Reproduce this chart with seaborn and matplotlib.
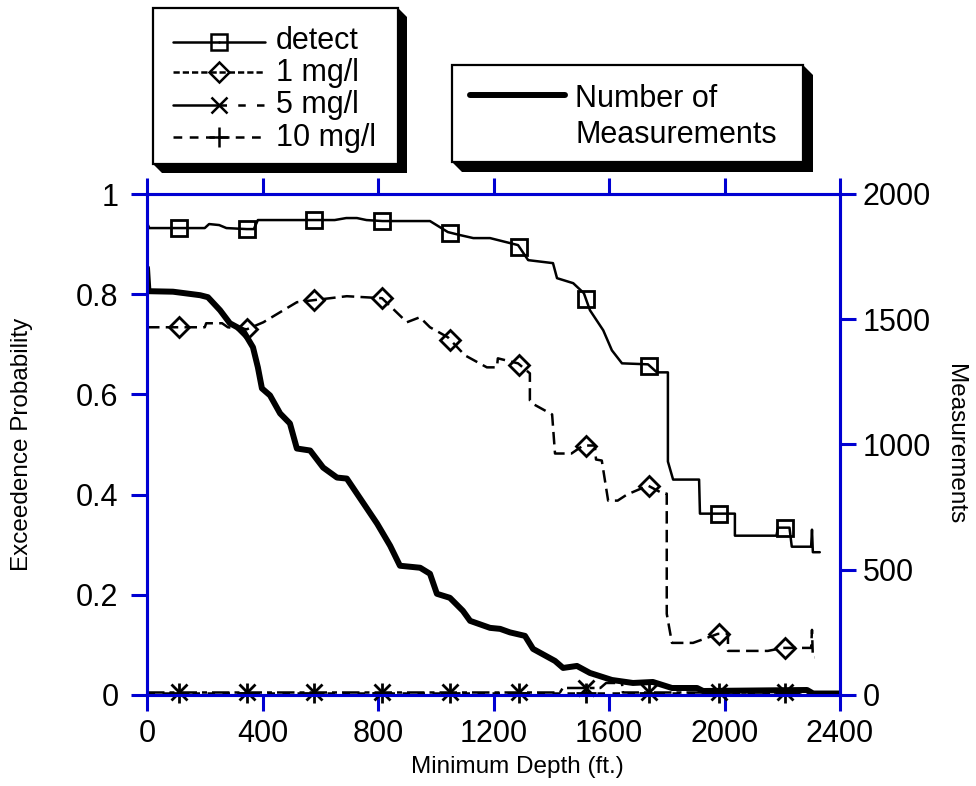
import numpy as np
import matplotlib
matplotlib.use("Agg")
import matplotlib.pyplot as plt
from matplotlib.lines import Line2D
from matplotlib.patches import Rectangle, Polygon
import seaborn as sns

# ---- exceedence probability vs. minimum well depth ----
detect_depth = [0, 8, 200, 215, 250, 275, 345, 370, 384, 580, 650, 690, 727, 760, 815,
                980, 1042, 1084, 1130, 1188, 1285, 1320, 1406, 1420, 1476, 1513, 1534,
                1580, 1610, 1645, 1735, 1766, 1804, 1804, 1822, 1912, 1915, 1974, 2036,
                2036, 2180, 2185, 2225, 2233, 2300, 2303, 2306, 2330]
detect_prob = [0.942, 0.932, 0.932, 0.940, 0.938, 0.932, 0.930, 0.930, 0.948, 0.948,
               0.948, 0.952, 0.952, 0.948, 0.946, 0.946, 0.924, 0.918, 0.912, 0.912,
               0.898, 0.868, 0.862, 0.832, 0.822, 0.802, 0.768, 0.728, 0.688, 0.662,
               0.660, 0.644, 0.644, 0.466, 0.430, 0.430, 0.362, 0.362, 0.362, 0.318,
               0.318, 0.334, 0.334, 0.296, 0.296, 0.330, 0.285, 0.285]

mg1_depth = [0, 200, 205, 260, 280, 346, 403, 484, 519, 576, 692, 814, 900, 945, 980,
             1042, 1101, 1177, 1212, 1215, 1285, 1326, 1326, 1340, 1403, 1413, 1470,
             1510, 1551, 1555, 1575, 1597, 1630, 1662, 1735, 1787, 1800, 1800, 1818,
             1891, 1977, 2012, 2012, 2150, 2203, 2300, 2303, 2306, 2312]
mg1_prob = [0.734, 0.734, 0.742, 0.742, 0.734, 0.730, 0.744, 0.772, 0.784, 0.788,
            0.796, 0.792, 0.744, 0.754, 0.734, 0.714, 0.678, 0.654, 0.654, 0.672,
            0.662, 0.642, 0.588, 0.580, 0.560, 0.482, 0.482, 0.498, 0.498, 0.470,
            0.468, 0.388, 0.388, 0.400, 0.418, 0.402, 0.402, 0.162, 0.104, 0.104,
            0.122, 0.122, 0.088, 0.088, 0.094, 0.094, 0.130, 0.075, 0.075]

mg5_depth = [0, 1430, 1440, 1570, 1590, 1645, 1648, 2330]
mg5_prob = [0.005, 0.005, 0.014, 0.014, 0.024, 0.024, 0.005, 0.005]

mg10_depth = [0, 2330]
mg10_prob = [0.003, 0.003]

# number of wells deeper than the given minimum depth
count_depth = [0, 5, 90, 184, 211, 253, 287, 332, 367, 384, 398, 426, 461, 495, 519,
               565, 610, 658, 692, 748, 797, 842, 876, 946, 980, 1004, 1049, 1094,
               1119, 1188, 1223, 1257, 1309, 1337, 1413, 1441, 1489, 1534, 1610, 1683,
               1752, 1818, 1905, 1926, 2286, 2307, 2400]
count_n = [1705, 1612, 1610, 1596, 1588, 1536, 1484, 1456, 1388, 1308, 1224, 1196,
           1124, 1084, 984, 976, 908, 868, 864, 768, 684, 596, 516, 508, 484, 404,
           388, 336, 296, 268, 264, 250, 236, 184, 136, 108, 116, 88, 60, 48, 52, 28,
           28, 16, 20, 6, 6]

marker_depths = [111, 345, 580, 815, 1050, 1290, 1520, 1740, 1980, 2210]

series_labels = ["detect", "1 mg/l", "5 mg/l", "10 mg/l"]
count_label = ["Number of", "Measurements"]

x_ticks = [0, 400, 800, 1200, 1600, 2000, 2400]
y_ticks = [0, 0.2, 0.4, 0.6, 0.8, 1.0]
y_tick_labels = ["0", "0.2", "0.4", "0.6", "0.8", "1"]
n_ticks = [0, 500, 1000, 1500, 2000]

# ---- styling ----
sns.set_style("white")
plt.rcParams["font.family"] = ["Liberation Sans", "DejaVu Sans"]
plt.rcParams["text.color"] = "black"
plt.rcParams["axes.labelcolor"] = "black"

BLUE = "#0000D2"
W, H = 976, 786
LW = 1.8

series = [
    (detect_depth, detect_prob, dict(linestyle="-", marker="s", ms=12)),
    (mg1_depth, mg1_prob, dict(linestyle=(0, (5, 2.5)), marker="D", ms=10)),
    (mg5_depth, mg5_prob, dict(linestyle=(0, (7, 2, 2, 2)), marker="x", ms=12)),
    (mg10_depth, mg10_prob, dict(linestyle=(0, (3, 3)), marker="+", ms=14)),
]

fig = plt.figure(figsize=(W / 100, H / 100), dpi=100)
ax = fig.add_axes([147 / W, 1 - 695 / H, (840 - 147) / W, (695 - 194) / H])
ax2 = ax.twinx()

for depth, prob, st in series:
    sns.lineplot(x=depth, y=prob, ax=ax, estimator=None, sort=False,
                 color="black", lw=LW, linestyle=st["linestyle"])
    my = np.interp(marker_depths, depth, prob)
    ax.plot(marker_depths, my, linestyle="none", marker=st["marker"],
            ms=st["ms"], mfc="none", mec="black", mew=2.0, zorder=5,
            clip_on=False)

sns.lineplot(x=count_depth, y=count_n, ax=ax2, estimator=None, sort=False,
             color="black", lw=4.3, solid_joinstyle="round", solid_capstyle="round")

# ---- axes ----
ax.set_xlim(0, 2400)
ax.set_ylim(0, 1)
ax2.set_ylim(0, 2000)
ax.set_xticks(x_ticks)
ax.set_xticklabels([str(v) for v in x_ticks])
ax.set_yticks(y_ticks)
ax.set_yticklabels(y_tick_labels)
ax2.set_yticks(n_ticks)
ax2.set_yticklabels([str(v) for v in n_ticks])

for a in (ax, ax2):
    for sp in a.spines.values():
        sp.set_visible(True)
        sp.set_color(BLUE)
        sp.set_linewidth(2.2)
    a.grid(False)

ax.tick_params(axis="x", which="major", direction="out", top=True, bottom=True,
               length=11.5, width=2.2, color=BLUE, labelsize=22, pad=6,
               labelcolor="black")
ax.tick_params(axis="y", direction="out", left=True, right=False, length=11.5,
               width=2.2, color=BLUE, labelsize=22, pad=9, labelcolor="black")
ax2.tick_params(axis="y", direction="out", right=True, left=False, length=11.5,
                width=2.2, color=BLUE, labelsize=22, pad=5, labelcolor="black")

ax.set_xlabel("Minimum Depth (ft.)", fontsize=17.5, color="black")
ax.xaxis.label.set_va("center")
ax.xaxis.set_label_coords(0.534, -0.144)
ax.set_ylabel("Exceedence Probability", fontsize=17.5, color="black")
ax.yaxis.label.set_va("center")
ax.yaxis.set_label_coords(-0.181, 0.5)
ax2.set_ylabel("Measurements", fontsize=17.5, rotation=270, color="black")
ax2.yaxis.label.set_va("center")
ax2.yaxis.set_label_coords(1.166, 0.5)


# ---- legend boxes (pixel layout, y measured from the top) ----
def px(x, y):
    return (x / W, 1 - y / H)


def shadow_box(L, T, R, B, d):
    shadow = Polygon([px(R, T), px(R + d, T + d), px(R + d, B + d),
                      px(L + d, B + d), px(L, B), px(R, B)], closed=True,
                     transform=fig.transFigure, fc="black", ec="black", lw=0)
    box = Rectangle(px(L, B), (R - L) / W, (B - T) / H,
                    transform=fig.transFigure, fc="white", ec="black", lw=1.6)
    fig.add_artist(shadow)
    fig.add_artist(box)


def handle_line(x0, x1, y, **kw):
    (a0, b0), (a1, b1) = px(x0, y), px(x1, y)
    fig.add_artist(Line2D([a0, a1], [b0, b1], transform=fig.transFigure,
                          color="black", **kw))


shadow_box(153, 8, 398, 164, 9)
row_line_y = [42, 72, 105, 137]
row_base_y = [49, 81, 113, 146]
left_styles = ["-", (0, (2.5, 1.2)), "-", (0, (3.5, 3))]
right_styles = ["-", (0, (2.5, 1.2)), (0, (3, 4.5)), (0, (3.5, 3))]
for i, (label, (_, _, st)) in enumerate(zip(series_labels, series)):
    y = row_line_y[i]
    handle_line(173, 219, y, lw=LW, linestyle=left_styles[i])
    handle_line(219, 265, y, lw=LW, linestyle=right_styles[i])
    mx, my = px(219, y)
    fig.add_artist(Line2D([mx], [my], transform=fig.transFigure, linestyle="none",
                          marker=st["marker"], ms=st["ms"], mfc="none",
                          mec="black", mew=1.8))
    fig.text(*px(276, row_base_y[i]), label, fontsize=22, ha="left",
             va="baseline", color="black")

shadow_box(452, 65, 803, 162, 10)
handle_line(470, 565, 95, lw=4.3)
fig.text(*px(575, 107), count_label[0], fontsize=22, ha="left", va="baseline",
         color="black")
fig.text(*px(575, 143), count_label[1], fontsize=22, ha="left", va="baseline",
         color="black")

fig.savefig("out.png", dpi=100)
